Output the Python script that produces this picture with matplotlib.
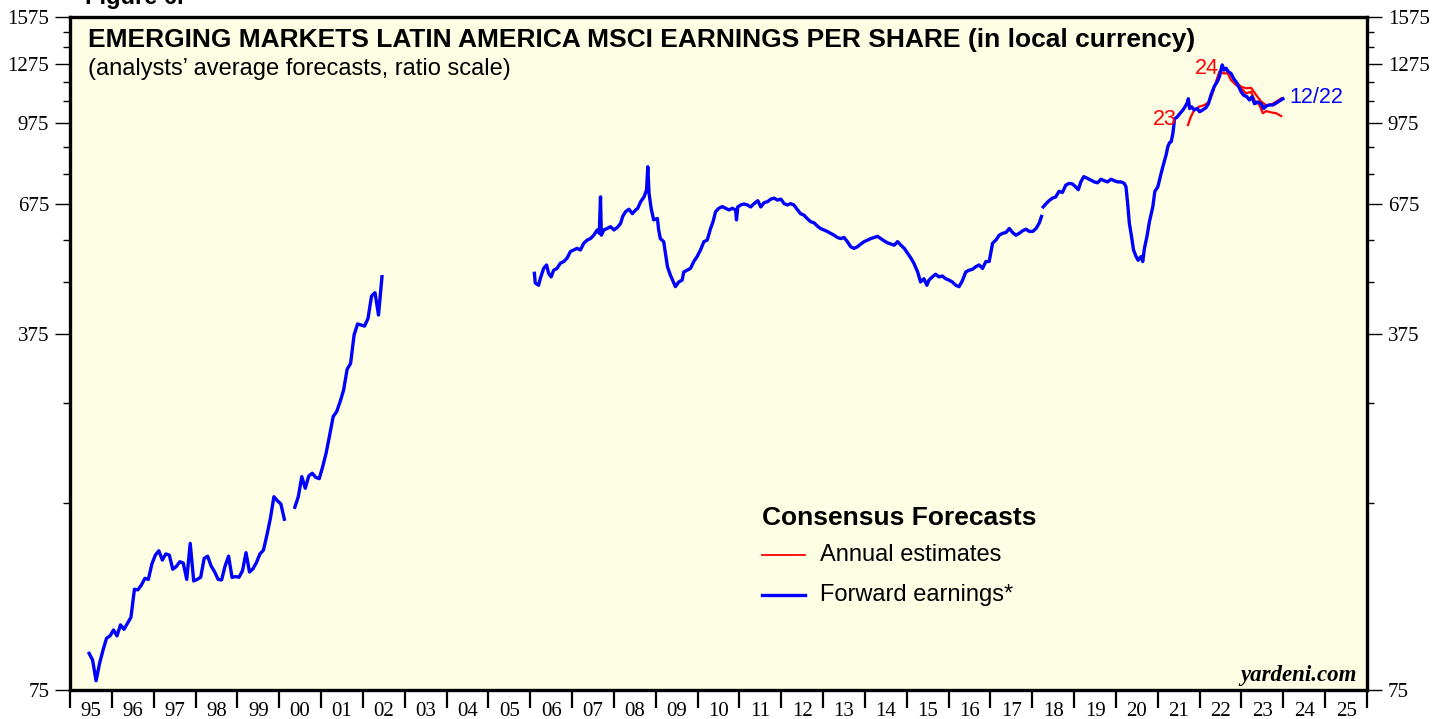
import numpy as np
import pandas as pd
import matplotlib
matplotlib.use('Agg')
import matplotlib.pyplot as plt
from matplotlib.ticker import FixedLocator, FixedFormatter, NullFormatter

# forward earnings, monthly 1995-06 .. 2000-02
fwd_a = [88.5, 85.9, 78.2, 84.6, 89.9, 94.8, 95.8, 98.4, 95.8, 100.7,
         98.7, 101.4, 104.2, 118.3, 118.0, 120.6, 124.3, 123.7, 132.6, 138.1,
         140.8, 135.0, 138.8, 138.1, 129.5, 131.1, 134.0, 133.2, 123.7, 145.6,
         122.8, 123.7, 124.9, 136.0, 137.4, 131.4, 128.0, 123.7, 123.4, 131.4,
         137.4, 124.8, 125.3, 124.9, 128.7, 139.6, 127.9, 129.8, 133.5, 138.8,
         141.2, 151.2, 163.1, 179.8, 176.6, 174.0, 162.4]
# monthly 2000-05 .. 2002-06
fwd_b = [171.4, 179.8, 196.9, 186.8, 197.5, 199.9, 196.3, 195.1, 206.0, 219.4,
         237.7, 258.3, 264.2, 276.4, 291.4, 319.9, 328.7, 373.7, 392.8, 391.0,
         389.0, 402.9, 445.7, 452.5, 409.0, 486.5]

# weekly series 2006 .. 2018 (sampled)
yrs_c = [2006.10, 2006.12, 2006.20, 2006.24, 2006.32, 2006.39, 2006.44, 2006.50, 2006.56, 2006.64,
         2006.72, 2006.80, 2006.88, 2006.96, 2007.04, 2007.12, 2007.20, 2007.28, 2007.36, 2007.44,
         2007.52, 2007.60, 2007.65, 2007.68, 2007.70, 2007.76, 2007.84, 2007.92, 2008.00, 2008.08,
         2008.16, 2008.21, 2008.28, 2008.36, 2008.44, 2008.52, 2008.57, 2008.64, 2008.72, 2008.78,
         2008.81, 2008.84, 2008.89, 2008.95, 2009.04, 2009.07, 2009.11, 2009.19, 2009.28, 2009.35,
         2009.43, 2009.47, 2009.55, 2009.63, 2009.67, 2009.75, 2009.83, 2009.91, 2009.99, 2010.07,
         2010.15, 2010.23, 2010.31, 2010.37, 2010.43, 2010.51, 2010.59, 2010.67, 2010.75, 2010.83,
         2010.91, 2010.93, 2010.96, 2011.03, 2011.11, 2011.19, 2011.27, 2011.35, 2011.44, 2011.51,
         2011.59, 2011.67, 2011.75, 2011.83, 2011.91, 2011.99, 2012.07, 2012.15, 2012.22, 2012.30,
         2012.38, 2012.46, 2012.54, 2012.62, 2012.70, 2012.78, 2012.86, 2012.94, 2013.02, 2013.10,
         2013.18, 2013.26, 2013.34, 2013.42, 2013.50, 2013.58, 2013.66, 2013.74, 2013.82, 2013.90,
         2013.98, 2014.06, 2014.14, 2014.22, 2014.30, 2014.38, 2014.46, 2014.54, 2014.62, 2014.70,
         2014.78, 2014.86, 2014.94, 2015.02, 2015.10, 2015.17, 2015.26, 2015.33, 2015.41, 2015.48,
         2015.53, 2015.61, 2015.69, 2015.77, 2015.85, 2015.93, 2016.01, 2016.09, 2016.17, 2016.25,
         2016.33, 2016.41, 2016.49, 2016.57, 2016.65, 2016.73, 2016.81, 2016.89, 2016.97, 2017.05,
         2017.13, 2017.21, 2017.29, 2017.37, 2017.45, 2017.53, 2017.61, 2017.69, 2017.77, 2017.85,
         2017.93, 2018.01, 2018.09, 2018.17, 2018.22]
fwd_c = [494, 473, 468, 482, 505, 513, 494, 486, 501, 505,
         517, 521, 529, 545, 549, 553, 549, 566, 574, 578,
         587, 601, 592, 698, 587, 601, 605, 610, 601, 608,
         619, 639, 653, 660, 647, 658, 663, 683, 698, 720,
         800, 709, 663, 629, 633, 601, 578, 570, 509, 490,
         473, 465, 475, 479, 497, 501, 505, 521, 533, 549,
         570, 574, 605, 624, 653, 663, 668, 663, 658, 663,
         658, 629, 667, 673, 676, 673, 667, 677, 686, 667,
         680, 683, 691, 694, 688, 691, 677, 673, 677, 673,
         660, 647, 643, 633, 624, 621, 612, 605, 601, 597,
         592, 587, 581, 578, 581, 570, 557, 553, 557, 564,
         570, 574, 578, 581, 584, 578, 572, 567, 564, 561,
         570, 561, 553, 541, 529, 517, 497, 475, 482, 468,
         479, 486, 492, 486, 488, 482, 479, 475, 468, 465,
         478, 497, 501, 503, 509, 513, 505, 521, 521, 566,
         574, 587, 592, 594, 605, 594, 587, 592, 599, 603,
         597, 597, 605, 621, 639]

# weekly series 2018 .. 12/22/2023 (sampled)
yrs_d = [2018.26, 2018.33, 2018.40, 2018.48, 2018.56, 2018.64, 2018.72, 2018.80, 2018.88, 2018.96,
         2019.04, 2019.10, 2019.16, 2019.23, 2019.32, 2019.40, 2019.48, 2019.56, 2019.64, 2019.72,
         2019.80, 2019.88, 2019.96, 2020.04, 2020.12, 2020.20, 2020.24, 2020.28, 2020.32, 2020.36,
         2020.42, 2020.48, 2020.53, 2020.60, 2020.64, 2020.68, 2020.74, 2020.80, 2020.88, 2020.93,
         2021.00, 2021.06, 2021.12, 2021.20, 2021.24, 2021.28, 2021.32, 2021.36, 2021.38, 2021.40,
         2021.46, 2021.52, 2021.60, 2021.65, 2021.70, 2021.73, 2021.76, 2021.81, 2021.87, 2021.94,
         2022.00, 2022.07, 2022.15, 2022.21, 2022.27, 2022.35, 2022.42, 2022.47, 2022.51, 2022.54,
         2022.58, 2022.63, 2022.69, 2022.75, 2022.82, 2022.87, 2022.93, 2022.99, 2023.05, 2023.13,
         2023.19, 2023.25, 2023.31, 2023.39, 2023.47, 2023.53, 2023.59, 2023.67, 2023.75, 2023.83,
         2023.91, 2023.99]
fwd_d = [667, 677, 686, 694, 698, 716, 712, 736, 742, 740,
         730, 721, 747, 765, 759, 753, 747, 744, 756, 751,
         747, 756, 751, 747, 747, 742, 730, 677, 619, 592,
         549, 533, 524, 533, 521, 553, 583, 624, 667, 716,
         730, 765, 800, 845, 876, 892, 896, 930, 960, 994,
         1001, 1016, 1034, 1049, 1067, 1088, 1041, 1049, 1034, 1041,
         1026, 1034, 1045, 1064, 1106, 1151, 1175, 1201, 1239, 1268,
         1239, 1249, 1229, 1220, 1189, 1175, 1151, 1123, 1106, 1098,
         1082, 1098, 1064, 1072, 1064, 1041, 1053, 1058, 1058, 1067,
         1078, 1088]

# annual estimates
yrs_23 = [2021.72, 2021.79, 2021.87, 2021.99, 2022.11, 2022.23, 2022.31, 2022.39, 2022.47, 2022.55,
          2022.67, 2022.75, 2022.87, 2022.99, 2023.11, 2023.23, 2023.31, 2023.43, 2023.51, 2023.59,
          2023.71, 2023.83, 2023.95]
est_23 = [966, 1003, 1034, 1050, 1057, 1074, 1115, 1175, 1230, 1221,
          1221, 1184, 1158, 1141, 1115, 1123, 1082, 1057, 1019, 1029,
          1023, 1019, 1006]
yrs_24 = [2022.51, 2022.63, 2022.75, 2022.87, 2022.99, 2023.11, 2023.23, 2023.35, 2023.47, 2023.59,
          2023.71, 2023.83, 2023.95]
est_24 = [1239, 1239, 1211, 1175, 1149, 1141, 1143, 1107, 1074, 1057,
          1060, 1074, 1090]

year_labels = ['%02d' % (y % 100) for y in range(1995, 2026)]
y_major = [75, 375, 675, 975, 1275, 1575]
y_minor = [175, 275, 475, 575, 775, 875, 1075, 1175, 1375, 1475]


def to_year(start, n):
    d = pd.date_range(start, periods=n, freq='MS')
    return d.year + (d.month - 1) / 12 + 0.04


sans = 'Liberation Sans'
serif = 'Liberation Serif'

fig = plt.figure(figsize=(14.47, 7.19), dpi=100)
ax = fig.add_axes([70 / 1447, 29 / 719, 1297 / 1447, 673 / 719])
ax.set_facecolor('#fefee4')

ax.plot(yrs_23, est_23, color='red', lw=1.6)
ax.plot(yrs_24, est_24, color='red', lw=1.6)
ax.plot(to_year('1995-06', len(fwd_a)), fwd_a, color='blue', lw=2.4)
ax.plot(to_year('2000-05', len(fwd_b)), fwd_b, color='blue', lw=2.4)
ax.plot(yrs_c, fwd_c, color='blue', lw=2.4)
ax.plot(yrs_d, fwd_d, color='blue', lw=2.4)

ax.set_yscale('log')
ax.set_ylim(75, 1575)
ax.set_xlim(1995, 2026)

ax.yaxis.set_major_locator(FixedLocator(y_major))
ax.yaxis.set_major_formatter(FixedFormatter([str(v) for v in y_major]))
ax.yaxis.set_minor_locator(FixedLocator(y_minor))
ax.yaxis.set_minor_formatter(NullFormatter())
ax.tick_params(axis='y', which='major', direction='out', length=11, width=1,
               left=True, right=True, labelleft=True, labelright=True, labelsize=15, pad=4)
ax.tick_params(axis='y', which='minor', direction='out', length=5, width=1, left=True, right=True)

ax.xaxis.set_major_locator(FixedLocator(range(1995, 2027)))
ax.xaxis.set_major_formatter(NullFormatter())
ax.xaxis.set_minor_locator(FixedLocator(np.arange(1995.5, 2026, 1.0)))
ax.xaxis.set_minor_formatter(FixedFormatter(year_labels))
ax.tick_params(axis='x', which='major', direction='out', length=13, width=1.6)
ax.tick_params(axis='x', which='minor', length=0, labelsize=15, pad=9)

for lab in ax.get_yticklabels() + ax.get_xticklabels(minor=True):
    lab.set_family(serif)

for s in ax.spines.values():
    s.set_linewidth(2.4)

# titles
fig.text(88 / 1447, 1 - 40 / 719, 'EMERGING MARKETS LATIN AMERICA MSCI EARNINGS PER SHARE (in local currency)',
         family=sans, fontsize=19, fontweight='bold', va='center', ha='left')
fig.text(88 / 1447, 1 - 69 / 719, '(analysts\u2019 average forecasts, ratio scale)',
         family=sans, fontsize=17, va='center', ha='left')
fig.text(85 / 1447, 1 - 4 / 719, 'Figure 6.', family=sans, fontsize=17, fontweight='bold',
         va='baseline', ha='left')

# series labels
ax.text(2021.46, 990, '23', color='red', family=sans, fontsize=15.5, ha='right', va='center')
ax.text(2022.45, 1245, '24', color='red', family=sans, fontsize=15.5, ha='right', va='center')
ax.text(2024.15, 1093, '12/22', color='blue', family=sans, fontsize=15.5, ha='left', va='center')

# legend
fig.text(762 / 1447, 1 - 518 / 719, 'Consensus Forecasts', family=sans, fontsize=19,
         fontweight='bold', va='center', ha='left')
fig.add_artist(plt.Line2D([762 / 1447, 805 / 1447], [1 - 555 / 719] * 2, color='red', lw=1.3))
fig.text(820 / 1447, 1 - 555 / 719, 'Annual estimates', family=sans, fontsize=17, va='center', ha='left')
fig.add_artist(plt.Line2D([762 / 1447, 805 / 1447], [1 - 595 / 719] * 2, color='blue', lw=2.4))
fig.text(820 / 1447, 1 - 595 / 719, 'Forward earnings*', family=sans, fontsize=17, va='center', ha='left')

fig.text(1357 / 1447, 1 - 675 / 719, 'yardeni.com', family=serif, fontsize=16.5, fontweight='bold',
         style='italic', va='center', ha='right')

fig.savefig('out.png', dpi=100, facecolor='white')
